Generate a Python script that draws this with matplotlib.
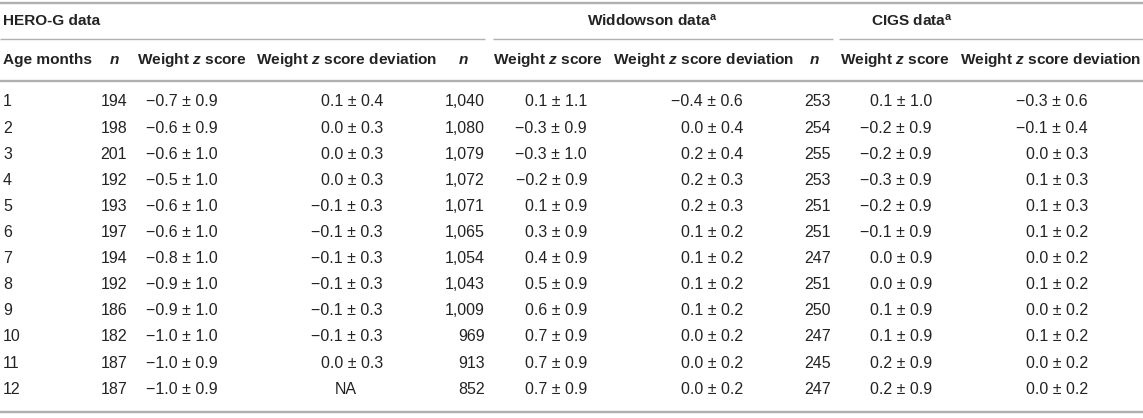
import matplotlib
matplotlib.use("Agg")
import matplotlib.pyplot as plt

plt.rcParams['font.family'] = ['Liberation Sans', 'DejaVu Sans']
plt.rcParams['mathtext.fontset'] = 'custom'
plt.rcParams['mathtext.it'] = 'Liberation Sans:italic:bold'
plt.rcParams['mathtext.rm'] = 'Liberation Sans:bold'
plt.rcParams['mathtext.bf'] = 'Liberation Sans:bold'

# ---------------- data ----------------
age_months = [1, 2, 3, 4, 5, 6, 7, 8, 9, 10, 11, 12]
hero_n = [194, 198, 201, 192, 193, 197, 194, 192, 186, 182, 187, 187]
hero_z_mean = [-0.7, -0.6, -0.6, -0.5, -0.6, -0.6, -0.8, -0.9, -0.9, -1.0, -1.0, -1.0]
hero_z_sd = [0.9, 0.9, 1.0, 1.0, 1.0, 1.0, 1.0, 1.0, 1.0, 1.0, 0.9, 0.9]
hero_dev_mean = [0.1, 0.0, 0.0, 0.0, -0.1, -0.1, -0.1, -0.1, -0.1, -0.1, 0.0, None]
hero_dev_sd = [0.4, 0.3, 0.3, 0.3, 0.3, 0.3, 0.3, 0.3, 0.3, 0.3, 0.3, None]
widd_n = [1040, 1080, 1079, 1072, 1071, 1065, 1054, 1043, 1009, 969, 913, 852]
widd_z_mean = [0.1, -0.3, -0.3, -0.2, 0.1, 0.3, 0.4, 0.5, 0.6, 0.7, 0.7, 0.7]
widd_z_sd = [1.1, 0.9, 1.0, 0.9, 0.9, 0.9, 0.9, 0.9, 0.9, 0.9, 0.9, 0.9]
widd_dev_mean = [-0.4, 0.0, 0.2, 0.2, 0.2, 0.1, 0.1, 0.1, 0.1, 0.0, 0.0, 0.0]
widd_dev_sd = [0.6, 0.4, 0.4, 0.3, 0.3, 0.2, 0.2, 0.2, 0.2, 0.2, 0.2, 0.2]
cigs_n = [253, 254, 255, 253, 251, 251, 247, 251, 250, 247, 245, 247]
cigs_z_mean = [0.1, -0.2, -0.2, -0.3, -0.2, -0.1, 0.0, 0.0, 0.1, 0.1, 0.2, 0.2]
cigs_z_sd = [1.0, 0.9, 0.9, 0.9, 0.9, 0.9, 0.9, 0.9, 0.9, 0.9, 0.9, 0.9]
cigs_dev_mean = [-0.3, -0.1, 0.0, 0.1, 0.1, 0.1, 0.0, 0.1, 0.0, 0.1, 0.0, 0.0]
cigs_dev_sd = [0.6, 0.4, 0.3, 0.3, 0.3, 0.2, 0.2, 0.2, 0.2, 0.2, 0.2, 0.2]

group_titles = ["HERO-G data", "Widdowson data$^{\\mathrm{a}}$", "CIGS data$^{\\mathrm{a}}$"]
col_headers = ["Age months", "$n$", "Weight $z$ score", "Weight $z$ score deviation",
               "$n$", "Weight $z$ score", "Weight $z$ score deviation",
               "$n$", "Weight $z$ score", "Weight $z$ score deviation"]


def fmt_num(v):
    s = f"{abs(v):.1f}"
    return ("\u2212" + s) if v < 0 else s


def fmt_ms(m, s):
    if m is None:
        return "NA"
    return f"{fmt_num(m)} \u00b1 {s:.1f}"


def fmt_n(n):
    return f"{n:,}"


# ---------------- layout ----------------
W, H = 1143, 418
fig = plt.figure(figsize=(W / 100, H / 100), dpi=100)
ax = fig.add_axes([0, 0, 1, 1])
ax.set_xlim(0, W)
ax.set_ylim(H, 0)
ax.axis('off')

TXT = '#232323'
LINE = '#b0b0b0'
FS_H = 11.1
FS_D = 11.5

# column anchors: (x, ha) for data; (x, ha) for header
data_anchor = [(3, 'left'), (127, 'right'), (146, 'left'), (383, 'right'),
               (485, 'right'), (587, 'right'), (743, 'right'),
               (831, 'right'), (932, 'right'), (1088, 'right')]
head_anchor = [(3, 'left'), (114, 'center'), (137, 'left'), (437, 'right'),
               (463, 'center'), (493, 'left'), (794, 'right'),
               (814, 'center'), (840, 'left'), (1141, 'right')]
na_x = 346

y_top, y_group_line, y_head_line, y_bottom = 2.5, 39, 80.5, 411.5
y_group_text, y_head_text = 21, 60
row_y0, row_dy = 102, 26.1

# rules
for yy in (y_top, y_head_line, y_bottom):
    ax.plot([0, W], [yy, yy], color=LINE, lw=1.7, solid_capstyle='butt')
for x0, x1 in [(0, 485), (493, 833), (839, W)]:
    ax.plot([x0, x1], [y_group_line, y_group_line], color=LINE, lw=1.0,
            solid_capstyle='butt')

# group titles
ax.text(3, y_group_text, group_titles[0], ha='left', va='center', fontsize=FS_H,
        fontweight='bold', color=TXT)
ax.text(652, y_group_text, group_titles[1], ha='center', va='center', fontsize=FS_H,
        fontweight='bold', color=TXT)
ax.text(912, y_group_text, group_titles[2], ha='center', va='center', fontsize=FS_H,
        fontweight='bold', color=TXT)

# column headers
for (x, ha), lab in zip(head_anchor, col_headers):
    ax.text(x, y_head_text, lab, ha=ha, va='center', fontsize=FS_H,
            fontweight='bold', color=TXT)

# body
for i in range(len(age_months)):
    y = row_y0 + i * row_dy
    cells = [str(age_months[i]), fmt_n(hero_n[i]), fmt_ms(hero_z_mean[i], hero_z_sd[i]),
             fmt_ms(hero_dev_mean[i], hero_dev_sd[i]),
             fmt_n(widd_n[i]), fmt_ms(widd_z_mean[i], widd_z_sd[i]),
             fmt_ms(widd_dev_mean[i], widd_dev_sd[i]),
             fmt_n(cigs_n[i]), fmt_ms(cigs_z_mean[i], cigs_z_sd[i]),
             fmt_ms(cigs_dev_mean[i], cigs_dev_sd[i])]
    for (x, ha), s in zip(data_anchor, cells):
        if s == "NA":
            x, ha = na_x, 'center'
        ax.text(x, y, s, ha=ha, va='center', fontsize=FS_D, color=TXT)

fig.savefig("out.png", dpi=100)
